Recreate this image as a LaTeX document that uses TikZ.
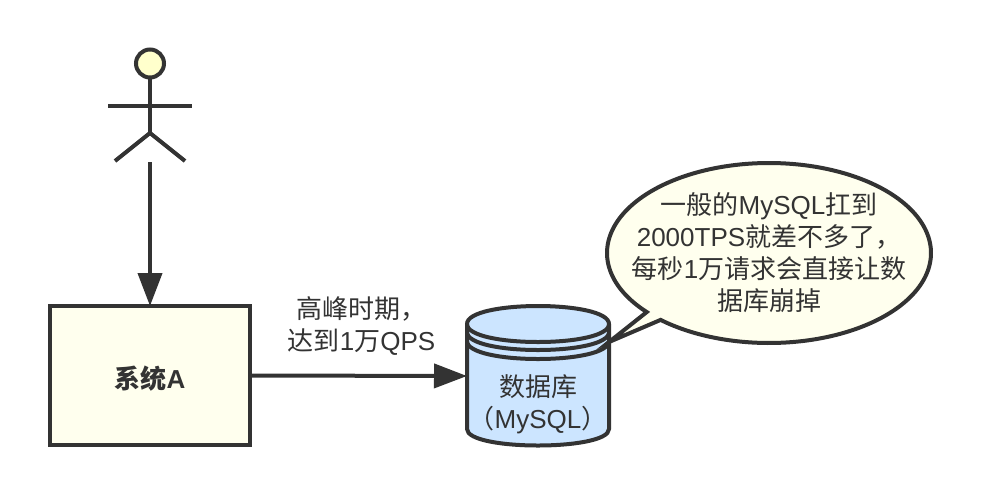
\documentclass[tikz,border=0pt]{standalone}
\usepackage{fontspec}
\setmainfont{Liberation Sans}
\newfontfamily\cjkfont{Noto Sans CJK SC}
\newcommand{\zh}[1]{{\cjkfont #1}}
\usetikzlibrary{arrows.meta,calc}
\definecolor{ink}{HTML}{333333}
\definecolor{paleyellow}{HTML}{FFFFEE}
\definecolor{headyellow}{HTML}{FFFFCC}
\definecolor{dbblue}{HTML}{CCE5FF}
\tikzset{
  x=1pt,y=-1pt,
  stroke/.style={draw=ink,line width=4pt},
  flow/.style={stroke,-{Triangle[length=33pt,width=24pt]}},
  label/.style={text=ink,align=center,inner sep=0pt,font=\fontsize{26}{32}\selectfont},
  sysbox/.style={stroke,fill=paleyellow,minimum width=200pt,minimum height=139pt,inner sep=0pt,outer sep=0pt},
  dbbox/.style={minimum width=142pt,minimum height=140pt,inner sep=0pt,outer sep=0pt},
}
\begin{document}
\begin{tikzpicture}
\useasboundingbox (0,0) rectangle (982,496);
% actor
\node[circle,stroke,fill=headyellow,minimum size=28pt,inner sep=0pt,outer sep=0pt] (head) at (150,63.5) {};
\coordinate (hip) at (150,133);
\coordinate (armL) at (108,106);
\coordinate (armR) at (192,106);
\coordinate (legL) at (115,161);
\coordinate (legR) at (185,161);
\coordinate (actorfoot) at (150,162);
\draw[stroke] (head.south) -- (hip);
\draw[stroke] (armL) -- (armR);
\draw[stroke] (legL) -- (hip) -- (legR);
% system
\node[sysbox] (sys) at (150,375.5) {};
\node[label] (systext) at (150,379) {\bfseries\zh{\bfseries 系统}A};
% database
\node[dbbox] (db) at (538,376) {};
\draw[stroke,fill=dbblue] (467,324)
  .. controls (467,300) and (609,300) .. (609,324)
  -- (609,429)
  .. controls (609,451) and (467,451) .. (467,429) -- cycle;
\draw[stroke] (467,324) .. controls (467,348) and (609,348) .. (609,324);
\draw[stroke] (467,332) .. controls (467,356) and (609,356) .. (609,332);
\draw[stroke] (467,341) .. controls (467,365) and (609,365) .. (609,341);
\node[label] (dbtext) at (538,404) {\zh{数据库}\\[0pt]\zh{（}MySQL\zh{）}};
% callout
\coordinate (tailtip) at (db.east |- 0,342);
\draw[stroke,fill=paleyellow,line join=miter]
  plot[smooth,domain=139:492,samples=120] ({769+162*cos(\x)},{253+90*sin(\x)})
  -- (tailtip) -- cycle;
\node[label] (note) at (769,253) {\zh{一般的}MySQL\zh{扛到}\\2000TPS\zh{就差不多了，}\\\zh{每秒}1\zh{万请求会直接让数}\\\zh{据库崩掉}};
% label
\node[label] (peak) at (361.5,326) {\zh{高峰时期，}\\\zh{达到}1\zh{万}QPS};
% connectors
\draw[flow] (actorfoot) -- (sys.north);
\draw[flow] (sys.east) -- (db.west);
\end{tikzpicture}
\end{document}
